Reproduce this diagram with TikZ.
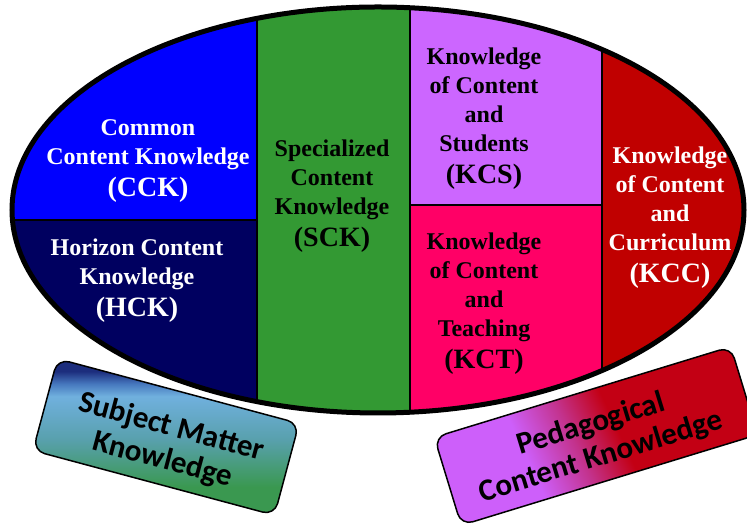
\documentclass[tikz,border=0pt]{standalone}
\usepackage{fontspec}
\setmainfont{Liberation Serif}
\newfontfamily\tagfont{Carlito}

\definecolor{cckblue}{RGB}{0,0,255}
\definecolor{hcknavy}{RGB}{0,0,96}
\definecolor{sckgreen}{RGB}{51,153,51}
\definecolor{kcspurple}{RGB}{204,102,255}
\definecolor{kctpink}{RGB}{255,0,102}
\definecolor{kccred}{RGB}{192,0,0}
\definecolor{smkdark}{RGB}{28,45,125}
\definecolor{smkmid}{RGB}{70,120,190}
\definecolor{smklight}{RGB}{112,176,222}
\definecolor{smkteal}{RGB}{88,160,172}
\definecolor{smkgreen}{RGB}{58,152,80}
\definecolor{pckpurple}{RGB}{205,95,250}
\definecolor{pckmag}{RGB}{195,50,140}
\definecolor{pckred}{RGB}{195,0,20}

\pgfdeclareverticalshading{smkshade}{100bp}{color(0bp)=(smkgreen); color(25bp)=(smkgreen);
  color(34bp)=(smkgreen); color(49bp)=(smkteal); color(63bp)=(smklight);
  color(67bp)=(smkmid); color(71bp)=(smkdark); color(100bp)=(smkdark)}
\pgfdeclarehorizontalshading{pckshade}{100bp}{color(0bp)=(pckpurple); color(25bp)=(pckpurple);
  color(37bp)=(pckpurple); color(46bp)=(pckmag); color(54bp)=(pckred); color(100bp)=(pckred)}

\begin{document}
\begin{tikzpicture}[x=1pt, y=1pt,
    part/.style={draw=black, line width=1.5pt},
    word/.style={align=center, font=\bfseries\fontsize{24}{29}\selectfont},
    tagbox/.style={draw=black, line width=1.5pt, rounded corners=12pt},
    tagtext/.style={align=center, font=\tagfont\bfseries\fontsize{31}{34}\selectfont}]
    \useasboundingbox (0,0) rectangle (747,526);

    % the six parts of the oval
    \begin{scope}
        \clip (378,316) ellipse [x radius=366, y radius=203];
        \filldraw[part, fill=cckblue] (0,306) rectangle (257,530);
        \filldraw[part, fill=hcknavy] (0,0) rectangle (257,306);
        \filldraw[part, fill=sckgreen] (257,0) rectangle (410,530);
        \filldraw[part, fill=kcspurple] (410,321) rectangle (602,530);
        \filldraw[part, fill=kctpink] (410,0) rectangle (602,321);
        \filldraw[part, fill=kccred] (602,0) rectangle (750,530);
    \end{scope}
    \draw[line width=5pt] (378,316) ellipse [x radius=366, y radius=203];

    % labels
    \node[word, text=white] (cck) at (148,365)
        {Common\\Content Knowledge\\[3pt]{\fontsize{28}{32}\selectfont (CCK)}};
    \node[word, text=white] (hck) at (137,245)
        {Horizon Content\\Knowledge\\[3pt]{\fontsize{28}{32}\selectfont (HCK)}};
    \node[word] (sck) at (332,330)
        {Specialized\\Content\\Knowledge\\[3pt]{\fontsize{28}{32}\selectfont (SCK)}};
    \node[word] (kcs) at (484,407)
        {Knowledge\\of Content\\and\\Students\\[3pt]{\fontsize{28}{32}\selectfont (KCS)}};
    \node[word] (kct) at (484,222)
        {Knowledge\\of Content\\and\\Teaching\\[3pt]{\fontsize{28}{32}\selectfont (KCT)}};
    \node[word, text=white] (kcc) at (670,308)
        {Knowledge\\of Content\\and\\Curriculum\\[3pt]{\fontsize{28}{32}\selectfont (KCC)}};

    % the two groups
    \node[tagbox, shading=smkshade, rotate=-15,
        minimum width=250pt, minimum height=95pt] (smk) at (166,89) {};
    \node[tagtext, rotate=-15] (smktext) at ([shift={(1,-7)}]smk.center)
        {Subject Matter\\Knowledge};
    \node[tagbox, shading=pckshade, shading angle=25, rotate=17,
        minimum width=310pt, minimum height=92pt] (pck) at (596,90) {};
    \node[tagtext, rotate=17] (pcktext) at ([shift={(0,-5)}]pck.center)
        {Pedagogical\\Content Knowledge};
\end{tikzpicture}
\end{document}
